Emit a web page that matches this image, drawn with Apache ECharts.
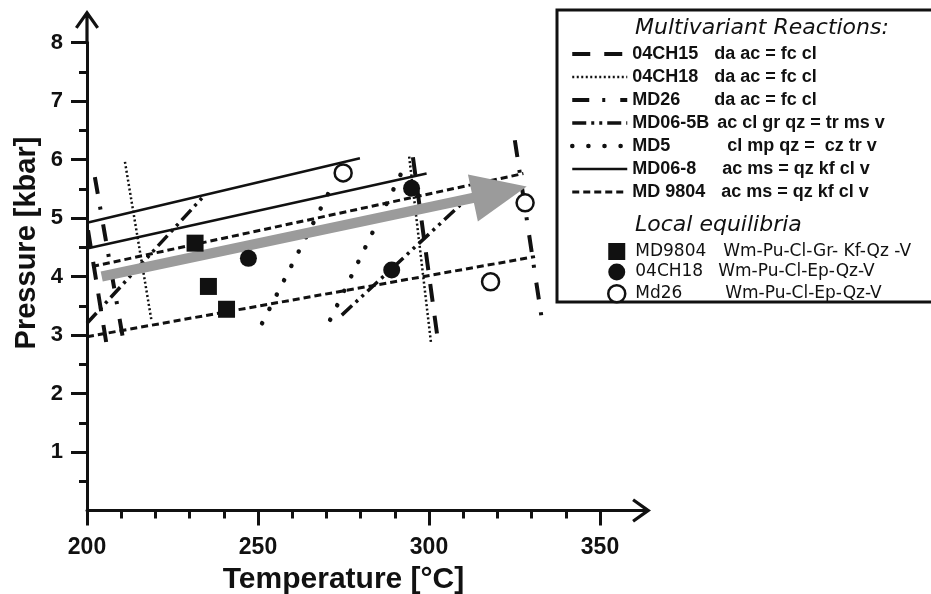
<!DOCTYPE html>
<html>
<head>
<meta charset="utf-8">
<script src="https://cdn.jsdelivr.net/npm/echarts@6/dist/echarts.min.js"></script>
<style>
  html, body { margin: 0; background: #fff; }
  #chart { width: 931px; height: 594px; }
</style>
</head>
<body>
<div id="chart"></div>
<script>
// reactions: each one is a list of segments [[T, P], [T, P]]
const reactionNames = ['04CH15', '04CH18', 'MD26', 'MD06-5B', 'MD5', 'MD06-8', 'MD 9804']
const reactionText = ['da ac = fc cl', 'da ac = fc cl', 'da ac = fc cl', 'ac cl gr qz = tr ms v', 'cl mp qz =  cz tr v', 'ac ms = qz kf cl v', 'ac ms = qz kf cl v']
const r04CH15 = [[[200.3, 4.79], [205.6, 2.88]], [[295.3, 6.04], [302.6, 2.91]]]
const r04CH18 = [[[211.1, 5.96], [218.9, 3.23]], [[294.2, 6.05], [300.6, 2.86]]]
const rMD26 = [[[202.3, 5.7], [210.7, 2.88]], [[325.1, 6.33], [333.2, 3.19]]]
const rMD065B = [[[200, 3.2], [233.9, 5.36]], [[274.5, 3.34], [309.1, 5.22]]]
const rMD5 = [[[251.2, 3.2], [271.1, 5.48]], [[271.1, 3.26], [292.1, 5.79]]]
const rMD068 = [[[200, 4.92], [279.8, 6.02]], [[200, 4.48], [299.3, 5.76]]]
const rMD9804 = [[[201.5, 4.17], [327.6, 5.76]], [[200, 2.97], [331, 4.34]]]
const reactions = [r04CH15, r04CH18, rMD26, rMD065B, rMD5, rMD068, rMD9804]

// local equilibria points [T, P]
const equilNames = ['MD9804', '04CH18', 'Md26']
const equilText = ['Wm-Pu-Cl-Gr- Kf-Qz -V', 'Wm-Pu-Cl-Ep-Qz-V', 'Wm-Pu-Cl-Ep-Qz-V']
const eqMD9804 = [[231.6, 4.57], [235.5, 3.83], [240.8, 3.44]]
const eq04CH18 = [[247.2, 4.31], [289.1, 4.11], [294.9, 5.51]]
const eqMd26 = [[274.9, 5.77], [328.1, 5.26], [318.0, 3.91]]

// P-T path (grey arrow)
const ptPath = [[204.3, 4.0], [320.7, 5.44]]

// axis ticks
const xTicks = [200, 250, 300, 350]
const yTicks = [1, 2, 3, 4, 5, 6, 7, 8]

// line styles for the reactions, same order as reactionNames
const reactionStyles = [
  { width: 4, type: [18, 14] },
  { width: 2.5, type: [2, 2.5] },
  { width: 4, type: [17, 13, 3, 15] },
  { width: 3.5, type: [14, 5, 3, 5, 3, 5] },
  { width: 4.5, type: [0.1, 16], cap: 'round' },
  { width: 2.5, type: 'solid' },
  { width: 3, type: [7, 4] }
]
const nameWidthsA = [82, 82, 82, 85, 95, 90, 89]
const nameWidthsB = [88, 83, 90]
const equilSymbols = [
  { symbol: 'rect', symbolSize: 17, itemStyle: { color: '#111', opacity: 1 } },
  { symbol: 'circle', symbolSize: 17, itemStyle: { color: '#111', opacity: 1 } },
  { symbol: 'circle', symbolSize: 17, itemStyle: { color: '#fff', borderColor: '#111', borderWidth: 2.5, opacity: 1 } }
]

const INK = '#111'
const BOLD = '"Liberation Sans", Arial, sans-serif'
const ROUND = '"DejaVu Sans", sans-serif'

// axis arrow: chevron with a shaft, pointing up
const arrowPath = (len) =>
  `path://M12,0 L24,17 L21.4,18.85 L13.6,7.8 L13.6,${len} L10.4,${len} L10.4,7.8 L2.6,18.85 L0,17 Z`

const chart = echarts.init(document.getElementById('chart'))

const series = []
reactions.forEach((segs, i) => {
  segs.forEach((seg) => {
    series.push({
      type: 'line',
      name: 'r-' + reactionNames[i],
      data: seg,
      symbol: 'none',
      silent: true,
      z: 2,
      itemStyle: { color: INK },
      lineStyle: Object.assign({ color: INK, cap: 'butt' }, reactionStyles[i])
    })
  })
})

series.push({
  type: 'lines',
  coordinateSystem: 'cartesian2d',
  silent: true,
  z: 3,
  symbol: ['none', 'triangle'],
  symbolSize: [10, [48, 55]],
  lineStyle: { color: '#9b9b9b', width: 10, opacity: 1, curveness: 0 },
  data: [{ coords: ptPath }]
})

;[eqMD9804, eq04CH18, eqMd26].forEach((pts, i) => {
  series.push(Object.assign({
    type: 'scatter',
    name: 'e-' + equilNames[i],
    data: pts,
    silent: true,
    z: 4
  }, equilSymbols[i]))
})

const richA = { d: { fontFamily: BOLD, fontWeight: 'bold', fontSize: 18, color: INK, lineHeight: 20 } }
nameWidthsA.forEach((w, i) => {
  richA['n' + i] = { width: w, fontFamily: BOLD, fontWeight: 'bold', fontSize: 18, color: INK, lineHeight: 20 }
})
const richB = { d: { fontFamily: ROUND, fontSize: 17, color: INK, lineHeight: 20 } }
nameWidthsB.forEach((w, i) => {
  richB['n' + i] = { width: w, padding: [0, 0, 0, 5], fontFamily: ROUND, fontSize: 17, color: INK, lineHeight: 20 }
})

const tickStyle = { color: INK, width: 3 }
const labelStyle = { color: INK, fontFamily: BOLD, fontWeight: 'bold', fontSize: 23 }

chart.setOption({
  animation: false,
  grid: { left: 87, right: 331, top: 42.5, bottom: 83.5, outerBoundsMode: 'none' },
  xAxis: {
    type: 'value',
    min: 200,
    max: 350,
    interval: 50,
    splitLine: { show: false },
    axisLine: {
      show: true,
      onZero: false,
      lineStyle: { color: INK, width: 3 },
      symbol: ['none', arrowPath(53)],
      symbolSize: [24, 53],
      symbolOffset: [0, 24.5]
    },
    axisTick: { show: true, length: 15, lineStyle: tickStyle, customValues: xTicks },
    minorTick: { show: true, splitNumber: 5, length: 8, lineStyle: tickStyle },
    axisLabel: Object.assign({ margin: 26, customValues: xTicks }, labelStyle),
    name: 'Temperature [°C]',
    nameLocation: 'middle',
    nameGap: 52,
    nameTextStyle: { color: INK, fontFamily: BOLD, fontWeight: 'bold', fontSize: 30 }
  },
  yAxis: {
    type: 'value',
    min: 0,
    max: 8,
    interval: 1,
    splitLine: { show: false },
    axisLine: {
      show: true,
      lineStyle: { color: INK, width: 3 },
      symbol: ['none', arrowPath(34)],
      symbolSize: [24, 34],
      symbolOffset: [0, 15.5]
    },
    axisTick: { show: true, length: 16, lineStyle: tickStyle, customValues: yTicks },
    minorTick: { show: true, splitNumber: 2, length: 8, lineStyle: tickStyle },
    axisLabel: Object.assign({ margin: 24, customValues: yTicks }, labelStyle, { fontSize: 22 })
  },
  legend: [
    {
      orient: 'vertical',
      left: 570,
      top: 45,
      padding: 0,
      itemWidth: 55,
      itemHeight: 14,
      itemGap: 5,
      selectedMode: false,
      lineStyle: { width: 'inherit' },
      itemStyle: { color: 'rgba(0,0,0,0)', borderColor: 'rgba(0,0,0,0)', borderWidth: 0 },
      data: reactionNames.map((n) => 'r-' + n),
      formatter: (name) => {
        const i = reactionNames.indexOf(name.slice(2))
        return `{n${i}|${reactionNames[i]}}{d|${reactionText[i]}}`
      },
      textStyle: { rich: richA }
    },
    {
      orient: 'vertical',
      left: 607,
      top: 243,
      padding: 0,
      itemWidth: 17,
      itemHeight: 17,
      itemGap: 3.5,
      selectedMode: false,
      itemStyle: { borderWidth: 'inherit' },
      data: equilNames.map((n) => 'e-' + n),
      formatter: (name) => {
        const i = equilNames.indexOf(name.slice(2))
        return `{n${i}|${equilNames[i]}}{d|${equilText[i]}}`
      },
      textStyle: { rich: richB }
    }
  ],
  graphic: [
    {
      type: 'rect',
      z: 0,
      shape: { x: 557, y: 10, width: 400, height: 292 },
      style: { fill: '#fff', stroke: INK, lineWidth: 3 }
    },
    {
      type: 'text',
      x: 635,
      y: 28,
      style: { text: 'Multivariant Reactions:', font: `italic 22px ${ROUND}`, fill: INK, align: 'left', verticalAlign: 'middle' }
    },
    {
      type: 'text',
      x: 635,
      y: 225,
      style: { text: 'Local equilibria', font: `italic 22px ${ROUND}`, fill: INK, align: 'left', verticalAlign: 'middle' }
    },
    {
      type: 'text',
      x: 27,
      y: 243,
      rotation: Math.PI / 2,
      style: { text: 'Pressure [kbar]', font: `bold 29px ${BOLD}`, fill: INK, align: 'center', verticalAlign: 'middle' }
    }
  ],
  series
})

window.addEventListener('resize', () => chart.resize())
</script>
</body>
</html>
